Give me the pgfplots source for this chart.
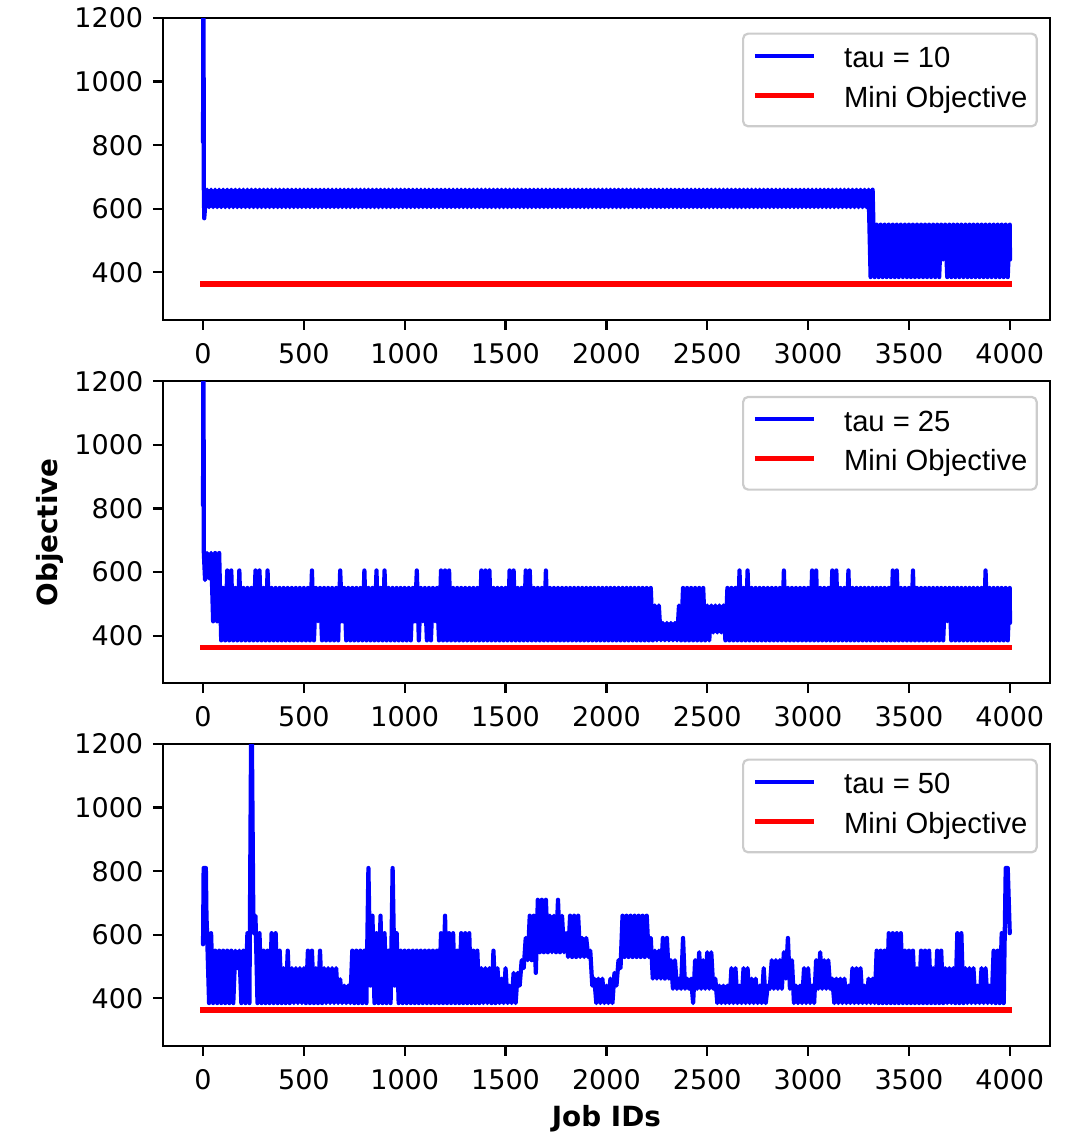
\documentclass[border=0pt]{standalone}
\usepackage{fontspec}
\usepackage{pgfplots}
\pgfplotsset{compat=1.18}
\newfontfamily\dejavu{DejaVu Sans}
\newfontfamily\arial{Liberation Sans}
\definecolor{lgray}{HTML}{CCCCCC}
\pgfplotsset{
  myaxis/.style={
    scale only axis, width=443.7pt, height=151pt,
    xmin=-200, xmax=4200, ymin=250, ymax=1200,
    xtick={0,500,...,4000}, ytick={400,600,800,1000,1200},
    scaled ticks=false,
    /pgf/number format/1000 sep={},
    /pgf/number format/assume math mode=true,
    tick align=outside, xtick pos=bottom, ytick pos=left,
    major tick length=4.85pt,
    tick style={black, line width=1.11pt},
    axis line style={line width=1.11pt},
    ticklabel style={font=\dejavu\fontsize{13.5}{16}\selectfont, inner sep=0pt},
    yticklabel style={xshift=-4.7pt},
    xticklabel style={yshift=-6.65pt},
    legend cell align=left,
    legend style={
      at={(axis description cs:1,1)}, anchor=north east, xshift=-6.15pt, yshift=-7.25pt,
      draw=lgray, line width=1.1pt, rounded corners=2.5pt, fill=white,
      inner xsep=4.6pt, inner ysep=6.6pt, row sep=6.15pt,
      font=\arial\fontsize{14.6}{17}\selectfont,
      nodes={inner sep=0pt, text height=10.5pt, text depth=3pt},
      /tikz/every odd column/.append style={column sep=13.8pt},
    },
    legend image code/.code={\draw[##1, line cap=butt] (0pt,2.2pt) -- (29.5pt,2.2pt);},
  },
  blueline/.style={blue, line width=2.1pt, line join=round, line cap=round},
  redline/.style={red, line width=2.6pt, line cap=rect},
}
\begin{document}
\begin{tikzpicture}
\useasboundingbox (0,0) rectangle (544pt,-571pt);
% ---------------- tau = 10
\begin{axis}[myaxis, at={(81.35pt,-160pt)}, anchor=south west]
\addplot[blueline] coordinates {
(0,810)(2,1400)(4,660)(6,570)
(10,605)(20,660)(30,605)(40,660)(50,605)(60,660)(70,605)(80,660)(90,605)(100,660)
(110,605)(120,660)(130,605)(140,660)(150,605)(160,660)(170,605)(180,660)(190,605)(200,660)
(210,605)(220,660)(230,605)(240,660)(250,605)(260,660)(270,605)(280,660)(290,605)(300,660)
(310,605)(320,660)(330,605)(340,660)(350,605)(360,660)(370,605)(380,660)(390,605)(400,660)
(410,605)(420,660)(430,605)(440,660)(450,605)(460,660)(470,605)(480,660)(490,605)(500,660)
(510,605)(520,660)(530,605)(540,660)(550,605)(560,660)(570,605)(580,660)(590,605)(600,660)
(610,605)(620,660)(630,605)(640,660)(650,605)(660,660)(670,605)(680,660)(690,605)(700,660)
(710,605)(720,660)(730,605)(740,660)(750,605)(760,660)(770,605)(780,660)(790,605)(800,660)
(810,605)(820,660)(830,605)(840,660)(850,605)(860,660)(870,605)(880,660)(890,605)(900,660)
(910,605)(920,660)(930,605)(940,660)(950,605)(960,660)(970,605)(980,660)(990,605)(1000,660)
(1010,605)(1020,660)(1030,605)(1040,660)(1050,605)(1060,660)(1070,605)(1080,660)(1090,605)(1100,660)
(1110,605)(1120,660)(1130,605)(1140,660)(1150,605)(1160,660)(1170,605)(1180,660)(1190,605)(1200,660)
(1210,605)(1220,660)(1230,605)(1240,660)(1250,605)(1260,660)(1270,605)(1280,660)(1290,605)(1300,660)
(1310,605)(1320,660)(1330,605)(1340,660)(1350,605)(1360,660)(1370,605)(1380,660)(1390,605)(1400,660)
(1410,605)(1420,660)(1430,605)(1440,660)(1450,605)(1460,660)(1470,605)(1480,660)(1490,605)(1500,660)
(1510,605)(1520,660)(1530,605)(1540,660)(1550,605)(1560,660)(1570,605)(1580,660)(1590,605)(1600,660)
(1610,605)(1620,660)(1630,605)(1640,660)(1650,605)(1660,660)(1670,605)(1680,660)(1690,605)(1700,660)
(1710,605)(1720,660)(1730,605)(1740,660)(1750,605)(1760,660)(1770,605)(1780,660)(1790,605)(1800,660)
(1810,605)(1820,660)(1830,605)(1840,660)(1850,605)(1860,660)(1870,605)(1880,660)(1890,605)(1900,660)
(1910,605)(1920,660)(1930,605)(1940,660)(1950,605)(1960,660)(1970,605)(1980,660)(1990,605)(2000,660)
(2010,605)(2020,660)(2030,605)(2040,660)(2050,605)(2060,660)(2070,605)(2080,660)(2090,605)(2100,660)
(2110,605)(2120,660)(2130,605)(2140,660)(2150,605)(2160,660)(2170,605)(2180,660)(2190,605)(2200,660)
(2210,605)(2220,660)(2230,605)(2240,660)(2250,605)(2260,660)(2270,605)(2280,660)(2290,605)(2300,660)
(2310,605)(2320,660)(2330,605)(2340,660)(2350,605)(2360,660)(2370,605)(2380,660)(2390,605)(2400,660)
(2410,605)(2420,660)(2430,605)(2440,660)(2450,605)(2460,660)(2470,605)(2480,660)(2490,605)(2500,660)
(2510,605)(2520,660)(2530,605)(2540,660)(2550,605)(2560,660)(2570,605)(2580,660)(2590,605)(2600,660)
(2610,605)(2620,660)(2630,605)(2640,660)(2650,605)(2660,660)(2670,605)(2680,660)(2690,605)(2700,660)
(2710,605)(2720,660)(2730,605)(2740,660)(2750,605)(2760,660)(2770,605)(2780,660)(2790,605)(2800,660)
(2810,605)(2820,660)(2830,605)(2840,660)(2850,605)(2860,660)(2870,605)(2880,660)(2890,605)(2900,660)
(2910,605)(2920,660)(2930,605)(2940,660)(2950,605)(2960,660)(2970,605)(2980,660)(2990,605)(3000,660)
(3010,605)(3020,660)(3030,605)(3040,660)(3050,605)(3060,660)(3070,605)(3080,660)(3090,605)(3100,660)
(3110,605)(3120,660)(3130,605)(3140,660)(3150,605)(3160,660)(3170,605)(3180,660)(3190,605)(3200,660)
(3210,605)(3220,660)(3230,605)(3240,660)(3250,605)(3260,660)(3270,605)(3280,660)(3290,605)(3300,660)
(3310,385)(3320,660)(3330,385)(3340,550)(3350,385)(3360,550)(3370,385)(3380,550)(3390,385)(3400,550)
(3410,385)(3420,550)(3430,385)(3440,550)(3450,385)(3460,550)(3470,385)(3480,550)(3490,385)(3500,550)
(3510,385)(3520,550)(3530,385)(3540,550)(3550,385)(3560,550)(3570,385)(3580,550)(3590,385)(3600,550)
(3610,385)(3620,550)(3630,385)(3640,550)(3650,385)(3660,550)(3670,440)(3680,550)(3690,385)(3700,550)
(3710,385)(3720,550)(3730,385)(3740,550)(3750,385)(3760,550)(3770,385)(3780,550)(3790,385)(3800,550)
(3810,385)(3820,550)(3830,385)(3840,550)(3850,385)(3860,550)(3870,385)(3880,550)(3890,385)(3900,550)
(3910,385)(3920,550)(3930,385)(3940,550)(3950,385)(3960,550)(3970,385)(3980,550)(3990,385)(4000,550)
(4001,440)
};
\addlegendentry{tau = 10}
\addplot[redline] coordinates {(0,363)(4000,363)};
\addlegendentry{Mini Objective}
\end{axis}
% ---------------- tau = 25
\begin{axis}[myaxis, at={(81.35pt,-341.65pt)}, anchor=south west,
  ylabel={Objective},
  ylabel style={at={(axis description cs:-0.1191,0.5)}, anchor=base,
    font=\dejavu\bfseries\fontsize{13.9}{16}\selectfont}]
\addplot[blueline] coordinates {
(0,810)(2,1400)(4,660)(10,575)(20,660)(30,580)(40,660)(50,445)(60,660)(70,445)(80,660)(90,385)(100,550)
(110,385)(120,605)(130,385)(140,605)(150,385)(160,550)(170,385)(180,605)(190,385)(200,550)
(210,385)(220,550)(230,385)(240,550)(250,385)(260,605)(270,385)(280,605)(290,385)(300,550)
(310,385)(320,605)(330,385)(340,550)(350,385)(360,550)(370,385)(380,550)(390,385)(400,550)
(410,385)(420,550)(430,385)(440,550)(450,385)(460,550)(470,385)(480,550)(490,385)(500,550)
(510,385)(520,550)(530,385)(540,605)(550,385)(560,550)(570,445)(580,550)(590,385)(600,550)
(610,385)(620,550)(630,385)(640,550)(650,385)(660,550)(670,385)(680,605)(690,445)(700,550)
(710,385)(720,550)(730,385)(740,550)(750,385)(760,550)(770,385)(780,550)(790,385)(800,605)
(810,385)(820,550)(830,385)(840,550)(850,385)(860,605)(870,385)(880,550)(890,385)(900,605)
(910,385)(920,550)(930,385)(940,550)(950,385)(960,550)(970,385)(980,550)(990,385)(1000,550)
(1010,385)(1020,550)(1030,385)(1040,550)(1050,445)(1060,605)(1070,385)(1080,550)(1090,445)(1100,550)
(1110,385)(1120,550)(1130,385)(1140,550)(1150,445)(1160,550)(1170,385)(1180,605)(1190,385)(1200,605)
(1210,385)(1220,605)(1230,385)(1240,550)(1250,385)(1260,550)(1270,385)(1280,550)(1290,385)(1300,550)
(1310,385)(1320,550)(1330,385)(1340,550)(1350,385)(1360,550)(1370,385)(1380,605)(1390,385)(1400,605)
(1410,385)(1420,605)(1430,385)(1440,550)(1450,385)(1460,550)(1470,385)(1480,550)(1490,385)(1500,550)
(1510,385)(1520,605)(1530,385)(1540,605)(1550,385)(1560,550)(1570,385)(1580,550)(1590,385)(1600,605)
(1610,385)(1620,605)(1630,385)(1640,550)(1650,385)(1660,550)(1670,385)(1680,550)(1690,385)(1700,605)
(1710,385)(1720,550)(1730,385)(1740,550)(1750,385)(1760,550)(1770,385)(1780,550)(1790,385)(1800,550)
(1810,385)(1820,550)(1830,385)(1840,550)(1850,385)(1860,550)(1870,385)(1880,550)(1890,385)(1900,550)
(1910,385)(1920,550)(1930,385)(1940,550)(1950,385)(1960,550)(1970,385)(1980,550)(1990,385)(2000,550)
(2010,385)(2020,550)(2030,385)(2040,550)(2050,385)(2060,550)(2070,385)(2080,550)(2090,385)(2100,550)
(2110,385)(2120,550)(2130,385)(2140,550)(2150,385)(2160,550)(2170,385)(2180,550)(2190,385)(2200,550)
(2210,385)(2220,550)(2230,385)(2240,495)(2250,385)(2260,495)(2270,385)(2280,440)(2290,385)(2300,440)
(2310,385)(2320,440)(2330,385)(2340,440)(2350,385)(2360,495)(2370,385)(2380,550)(2390,385)(2400,550)
(2410,385)(2420,550)(2430,385)(2440,550)(2450,385)(2460,550)(2470,385)(2480,550)(2490,385)(2500,495)
(2510,385)(2520,495)(2530,410)(2540,495)(2550,410)(2560,495)(2570,410)(2580,495)(2590,385)(2600,550)
(2610,385)(2620,550)(2630,385)(2640,550)(2650,385)(2660,605)(2670,385)(2680,550)(2690,385)(2700,605)
(2710,385)(2720,550)(2730,385)(2740,550)(2750,385)(2760,550)(2770,385)(2780,550)(2790,385)(2800,550)
(2810,385)(2820,550)(2830,385)(2840,550)(2850,385)(2860,550)(2870,385)(2880,605)(2890,385)(2900,550)
(2910,385)(2920,550)(2930,385)(2940,550)(2950,385)(2960,550)(2970,385)(2980,550)(2990,385)(3000,550)
(3010,385)(3020,605)(3030,385)(3040,605)(3050,385)(3060,550)(3070,385)(3080,550)(3090,385)(3100,550)
(3110,385)(3120,605)(3130,385)(3140,605)(3150,385)(3160,550)(3170,385)(3180,550)(3190,385)(3200,605)
(3210,385)(3220,550)(3230,385)(3240,550)(3250,385)(3260,550)(3270,385)(3280,550)(3290,385)(3300,550)
(3310,385)(3320,550)(3330,385)(3340,550)(3350,385)(3360,550)(3370,385)(3380,550)(3390,385)(3400,550)
(3410,385)(3420,605)(3430,385)(3440,605)(3450,385)(3460,550)(3470,385)(3480,550)(3490,385)(3500,550)
(3510,385)(3520,605)(3530,385)(3540,550)(3550,385)(3560,550)(3570,385)(3580,550)(3590,385)(3600,550)
(3610,385)(3620,550)(3630,385)(3640,550)(3650,385)(3660,550)(3670,385)(3680,550)(3690,445)(3700,550)
(3710,385)(3720,550)(3730,385)(3740,550)(3750,385)(3760,550)(3770,385)(3780,550)(3790,385)(3800,550)
(3810,385)(3820,550)(3830,385)(3840,550)(3850,385)(3860,550)(3870,385)(3880,605)(3890,385)(3900,550)
(3910,385)(3920,550)(3930,385)(3940,550)(3950,385)(3960,550)(3970,385)(3980,550)(3990,385)(4000,550)
(4001,440)
};
\addlegendentry{tau = 25}
\addplot[redline] coordinates {(0,363)(4000,363)};
\addlegendentry{Mini Objective}
\end{axis}
% ---------------- tau = 50
\begin{axis}[myaxis, at={(81.35pt,-523pt)}, anchor=south west,
  xlabel={Job IDs},
  xlabel style={at={(axis description cs:0.5,-0.2649)}, anchor=base,
    font=\dejavu\bfseries\fontsize{13.9}{16}\selectfont}]
\addplot[blueline] coordinates {
(0,570)(3,810)(14,810)(17,660)(20,605)(30,385)(40,605)(50,385)(60,550)(70,385)(80,550)(90,385)(100,550)
(110,385)(120,550)(130,385)(140,550)(150,385)(160,550)(170,495)(180,550)(190,385)(200,550)
(210,385)(220,605)(230,385)(240,1400)(250,605)(260,660)(270,385)(280,605)(290,385)(300,550)
(310,385)(320,550)(330,385)(340,605)(350,385)(360,605)(370,385)(380,550)(390,385)(400,495)
(410,385)(420,550)(430,385)(440,495)(450,385)(460,495)(470,385)(480,495)(490,385)(500,495)
(510,385)(520,550)(530,385)(540,550)(550,385)(560,495)(570,385)(580,550)(590,385)(600,495)
(610,385)(620,495)(630,385)(640,495)(650,385)(660,495)(670,385)(680,460)(690,385)(700,440)
(710,385)(720,440)(730,385)(740,550)(750,385)(760,550)(770,385)(780,550)(790,385)(800,550)
(810,385)(820,810)(830,440)(840,660)(850,385)(860,605)(870,385)(880,660)(890,385)(900,605)
(910,385)(920,550)(930,385)(940,810)(950,440)(960,605)(970,385)(980,550)(990,385)(1000,550)
(1010,385)(1020,550)(1030,385)(1040,550)(1050,385)(1060,550)(1070,385)(1080,550)(1090,385)(1100,550)
(1110,385)(1120,550)(1130,385)(1140,550)(1150,385)(1160,550)(1170,385)(1180,605)(1190,385)(1200,660)
(1210,385)(1220,605)(1230,385)(1240,605)(1250,385)(1260,550)(1270,385)(1280,605)(1290,385)(1300,605)
(1310,385)(1320,605)(1330,385)(1340,550)(1350,385)(1360,550)(1370,385)(1380,495)(1390,385)(1400,495)
(1410,385)(1420,495)(1430,385)(1440,550)(1450,385)(1460,495)(1470,385)(1480,462)(1490,385)(1500,495)
(1510,385)(1520,440)(1530,385)(1540,480)(1550,385)(1560,480)(1570,440)(1580,520)(1590,495)(1600,590)
(1610,520)(1620,660)(1630,520)(1640,660)(1650,480)(1660,710)(1670,545)(1680,710)(1690,545)(1700,710)
(1710,545)(1720,660)(1730,545)(1740,660)(1750,545)(1760,710)(1770,545)(1780,660)(1790,545)(1800,605)
(1810,530)(1820,660)(1830,530)(1840,660)(1850,530)(1860,660)(1870,530)(1880,590)(1890,530)(1900,590)
(1910,530)(1920,550)(1930,440)(1940,462)(1950,385)(1960,462)(1970,385)(1980,462)(1990,385)(2000,440)
(2010,385)(2020,462)(2030,385)(2040,480)(2050,440)(2060,520)(2070,495)(2080,660)(2090,530)(2100,660)
(2110,530)(2120,660)(2130,530)(2140,660)(2150,530)(2160,660)(2170,530)(2180,660)(2190,530)(2200,660)
(2210,530)(2220,590)(2230,462)(2240,550)(2250,462)(2260,550)(2270,462)(2280,590)(2290,462)(2300,590)
(2310,462)(2320,520)(2330,430)(2340,520)(2350,430)(2360,462)(2370,430)(2380,590)(2390,430)(2400,462)
(2410,430)(2420,462)(2430,385)(2440,520)(2450,430)(2460,545)(2470,430)(2480,520)(2490,430)(2500,545)
(2510,430)(2520,545)(2530,430)(2540,462)(2550,385)(2560,440)(2570,385)(2580,440)(2590,385)(2600,440)
(2610,385)(2620,495)(2630,385)(2640,495)(2650,385)(2660,440)(2670,385)(2680,495)(2690,385)(2700,495)
(2710,385)(2720,462)(2730,385)(2740,462)(2750,385)(2760,440)(2770,385)(2780,495)(2790,385)(2800,440)
(2810,430)(2820,520)(2830,430)(2840,520)(2850,430)(2860,520)(2870,430)(2880,545)(2890,462)(2900,590)
(2910,430)(2920,520)(2930,385)(2940,440)(2950,385)(2960,440)(2970,385)(2980,495)(2990,385)(3000,495)
(3010,385)(3020,440)(3030,385)(3040,520)(3050,430)(3060,545)(3070,430)(3080,520)(3090,430)(3100,520)
(3110,430)(3120,462)(3130,385)(3140,462)(3150,385)(3160,462)(3170,385)(3180,462)(3190,385)(3200,440)
(3210,385)(3220,495)(3230,385)(3240,495)(3250,385)(3260,495)(3270,385)(3280,440)(3290,385)(3300,462)
(3310,385)(3320,462)(3330,385)(3340,550)(3350,385)(3360,550)(3370,385)(3380,550)(3390,385)(3400,605)
(3410,385)(3420,605)(3430,385)(3440,605)(3450,385)(3460,605)(3470,385)(3480,550)(3490,385)(3500,550)
(3510,385)(3520,550)(3530,385)(3540,495)(3550,385)(3560,550)(3570,385)(3580,550)(3590,385)(3600,550)
(3610,385)(3620,495)(3630,385)(3640,550)(3650,385)(3660,550)(3670,385)(3680,495)(3690,385)(3700,495)
(3710,385)(3720,495)(3730,385)(3740,605)(3750,385)(3760,605)(3770,385)(3780,495)(3790,385)(3800,495)
(3810,385)(3820,495)(3830,385)(3840,440)(3850,385)(3860,495)(3870,385)(3880,495)(3890,385)(3900,440)
(3910,385)(3920,550)(3930,385)(3940,550)(3950,385)(3960,605)(3970,385)(3980,810)(3990,810)(4000,605)
};
\addlegendentry{tau = 50}
\addplot[redline] coordinates {(0,363)(4000,363)};
\addlegendentry{Mini Objective}
\end{axis}
\end{tikzpicture}
\end{document}
